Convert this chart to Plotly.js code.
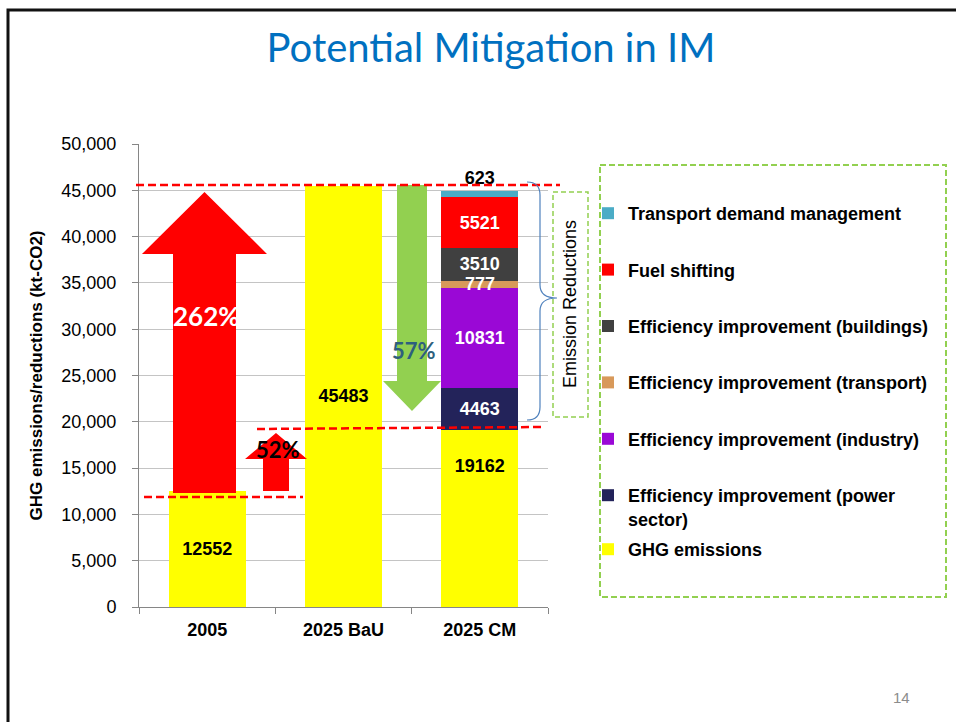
<!DOCTYPE html>
<html><head><meta charset="utf-8">
<script src="https://cdn.plot.ly/plotly-3.0.1.min.js"></script>
<style>html,body{margin:0;padding:0;background:#fff;overflow:hidden;} #chart{width:956px;height:722px;}</style>
</head><body><div id="chart"></div>
<script>
// ---------- data ----------
const categories = ['2005', '2025 BaU', '2025 CM'];
const ghgEmissions = [12552, 45483, 19162];
const reductionCategory = ['2025 CM'];
const effPowerSector = [4463];
const effIndustry = [10831];
const effTransport = [777];
const effBuildings = [3510];
const fuelShifting = [5521];
const transportDemandMgmt = [623];
const seriesNames = ['GHG emissions', 'Efficiency improvement (power<br>sector)', 'Efficiency improvement (industry)',
  'Efficiency improvement (transport)', 'Efficiency improvement (buildings)', 'Fuel shifting', 'Transport demand management'];
const yTickVals = [0, 5000, 10000, 15000, 20000, 25000, 30000, 35000, 40000, 45000, 50000];
const changeLabels = ['262%', '52%', '57%'];

// ---------- layout helpers (pixel -> paper) ----------
const W = 956, H = 722, L = 139, R = 548, T = 144, B = 607;
const X = px => (px - L) / (R - L);
const Y = py => (B - py) / (B - T);
const P = (px, py) => X(px).toFixed(5) + ',' + Y(py).toFixed(5);

const ARIAL = 'Liberation Sans, Arial, sans-serif';
const barFont = (c) => ({family: ARIAL, size: 18, color: c, weight: 'bold'});

function barTrace(name, x, y, color, txtColor, rank, extra) {
  return Object.assign({
    type: 'bar', name: name, x: x, y: y,
    marker: {color: color, line: {width: 0}},
    text: y.map(v => String(v)), texttemplate: '%{text}',
    textposition: 'inside', insidetextanchor: 'middle', constraintext: 'none',
    insidetextfont: barFont(txtColor), outsidetextfont: barFont('#000'), textfont: barFont(txtColor),
    legendgroup: name, legendrank: rank, hoverinfo: 'x+y+name', cliponaxis: false
  }, extra || {});
}

const traces = [
  barTrace(seriesNames[0], categories.slice(0, 2), ghgEmissions.slice(0, 2), '#FFFF00', '#000', 1, {legend: 'legend2', legendgroup: 'ghg'}),
  barTrace(seriesNames[0], categories.slice(2), ghgEmissions.slice(2), '#FFFF00', '#000', 1,
    {legend: 'legend2', legendgroup: 'ghg', showlegend: false, insidetextanchor: 'end',
     text: ghgEmissions.slice(2).map(v => '\u00a0<br>' + v)}),
  barTrace(seriesNames[1], reductionCategory, effPowerSector, '#23235A', '#fff', 6),
  barTrace(seriesNames[2], reductionCategory, effIndustry, '#9A08D6', '#fff', 5),
  // label of this thin segment is drawn as an annotation so it stays on top of the neighbouring segments
  barTrace(seriesNames[3], reductionCategory, effTransport, '#D8995A', '#fff', 4, {texttemplate: '', text: ['']}),
  barTrace(seriesNames[4], reductionCategory, effBuildings, '#404040', '#fff', 3),
  barTrace(seriesNames[5], reductionCategory, fuelShifting, '#FF0000', '#fff', 2),
  barTrace(seriesNames[6], reductionCategory, transportDemandMgmt, '#4BACC6', '#000', 1, {textposition: 'outside'})
];

const red = '#FF0000', green = '#92D050';
const shapes = [
  // slide border
  {type: 'rect', xref: 'paper', yref: 'paper', x0: X(8), y0: Y(10), x1: X(990), y1: Y(760), line: {color: '#111', width: 3}},
  // legend dashed box
  {type: 'rect', xref: 'paper', yref: 'paper', x0: X(600), y0: Y(165), x1: X(946), y1: Y(597), line: {color: green, width: 2, dash: '6px,3px'}},
  // emission reductions dashed box
  {type: 'rect', xref: 'paper', yref: 'paper', x0: X(553), y0: Y(192), x1: X(588), y1: Y(417), line: {color: green, width: 1.5, dash: '5px,3px'}},
  // big red arrow
  {type: 'path', xref: 'paper', yref: 'paper', fillcolor: red, line: {width: 0},
   path: 'M' + P(204.5, 192) + ' L' + P(267, 254) + ' L' + P(236, 254) + ' L' + P(236, 493) + ' L' + P(173, 493) + ' L' + P(173, 254) + ' L' + P(142, 254) + ' Z'},
  // small red arrow
  {type: 'path', xref: 'paper', yref: 'paper', fillcolor: red, line: {width: 0},
   path: 'M' + P(276, 433) + ' L' + P(307, 459) + ' L' + P(289, 459) + ' L' + P(289, 491) + ' L' + P(263, 491) + ' L' + P(263, 459) + ' L' + P(245, 459) + ' Z'},
  // green arrow (down)
  {type: 'path', xref: 'paper', yref: 'paper', fillcolor: green, line: {width: 0},
   path: 'M' + P(397, 185) + ' L' + P(427, 185) + ' L' + P(427, 381) + ' L' + P(441, 381) + ' L' + P(412, 411) + ' L' + P(383, 381) + ' L' + P(397, 381) + ' Z'},
  // red dashed reference lines
  {type: 'line', xref: 'paper', yref: 'paper', x0: X(136), x1: X(560), y0: Y(185), y1: Y(185), line: {color: red, width: 2.5, dash: '8px,4px'}},
  {type: 'line', xref: 'paper', yref: 'paper', x0: X(144), x1: X(303), y0: Y(497), y1: Y(497), line: {color: red, width: 2.5, dash: '8px,4px'}},
  {type: 'line', xref: 'paper', yref: 'paper', x0: X(257), x1: X(542), y0: Y(429), y1: Y(427), line: {color: red, width: 2.5, dash: '8px,4px'}},
  // brace
  {type: 'path', xref: 'paper', yref: 'paper', line: {color: '#4F81BD', width: 1.2},
   path: 'M' + P(527, 182) + ' Q' + P(540, 182) + ' ' + P(540, 195) + ' L' + P(540, 285) + ' Q' + P(540, 298) + ' ' + P(557, 298) +
         ' Q' + P(540, 298) + ' ' + P(540, 311) + ' L' + P(540, 407) + ' Q' + P(540, 420) + ' ' + P(527, 420)}
];

const transportMid = ghgEmissions[2] + effPowerSector[0] + effIndustry[0] + effTransport[0] / 2;
const ann = (o) => Object.assign({showarrow: false, xanchor: 'center', yanchor: 'middle'}, o);
const annotations = [
  ann({xref: 'paper', yref: 'paper', x: X(206), y: Y(316), text: changeLabels[0],
   font: {family: 'Lato, sans-serif', size: 26, color: '#fff', weight: 'bold'}}),
  ann({xref: 'paper', yref: 'paper', x: X(278), y: Y(449), text: changeLabels[1],
   font: {family: 'Lato, sans-serif', size: 22, color: '#000', weight: 'bold'}}),
  ann({xref: 'paper', yref: 'paper', x: X(414), y: Y(350), text: changeLabels[2],
   font: {family: 'Lato, sans-serif', size: 22, color: '#2E5F7E', weight: 'bold'}}),
  ann({xref: 'x', yref: 'y', x: reductionCategory[0], y: transportMid, text: String(effTransport[0]),
   font: barFont('#fff')}),
  ann({xref: 'paper', yref: 'paper', x: X(570), y: Y(304), text: 'Emission Reductions', textangle: -90,
   font: {family: ARIAL, size: 18, color: '#000'}}),
  ann({xref: 'paper', yref: 'paper', x: X(901), y: Y(697), text: '14',
   font: {family: ARIAL, size: 15, color: '#8C8C8C'}})
];

const legendBase = {
  xref: 'paper', yref: 'paper', xanchor: 'left', yanchor: 'top', bgcolor: 'rgba(0,0,0,0)', borderwidth: 0, valign: 'top',
  font: {family: ARIAL, size: 18, color: '#000', weight: 'bold'}, itemwidth: 30, itemclick: false, itemdoubleclick: false
};

const layout = {
  width: W, height: H,
  margin: {l: L, r: W - R, t: T, b: H - B, pad: 0},
  paper_bgcolor: '#fff', plot_bgcolor: '#fff',
  title: {text: 'Potential Mitigation in IM', xref: 'paper', x: X(491), xanchor: 'center', yref: 'container', y: 1 - 48 / H, yanchor: 'middle',
          font: {family: 'Lato, sans-serif', size: 40, color: '#0070C0'}},
  barmode: 'stack', bargap: 0.435,
  xaxis: {type: 'category', categoryorder: 'array', categoryarray: categories, range: [-0.5, 2.5],
          tickson: 'boundaries', ticks: 'outside', ticklen: 6, tickcolor: '#868686', showline: true, linecolor: '#868686', linewidth: 1,
          showgrid: false, ticklabelstandoff: 6, tickfont: {family: ARIAL, size: 18, color: '#000', weight: 'bold'}},
  yaxis: {range: [0, 50000], tickvals: yTickVals, tickformat: ',d', ticks: 'outside', ticklen: 6, tickcolor: '#868686',
          showline: true, linecolor: '#868686', linewidth: 1, gridcolor: '#C4C4C4', gridwidth: 1, zeroline: false,
          ticklabelstandoff: 12, tickfont: {family: ARIAL, size: 18, color: '#000'},
          title: {text: 'GHG emissions/reductions (kt-CO2)', standoff: 14, font: {family: ARIAL, size: 17, color: '#000', weight: 'bold'}}},
  legend: Object.assign({}, legendBase, {x: X(588), y: Y(195), traceorder: 'grouped', tracegroupgap: 30}),
  legend2: Object.assign({}, legendBase, {x: X(588), y: Y(531)}),
  shapes: shapes, annotations: annotations, showlegend: true
};

Plotly.newPlot('chart', traces, layout, {staticPlot: true, displayModeBar: false});
</script></body></html>
